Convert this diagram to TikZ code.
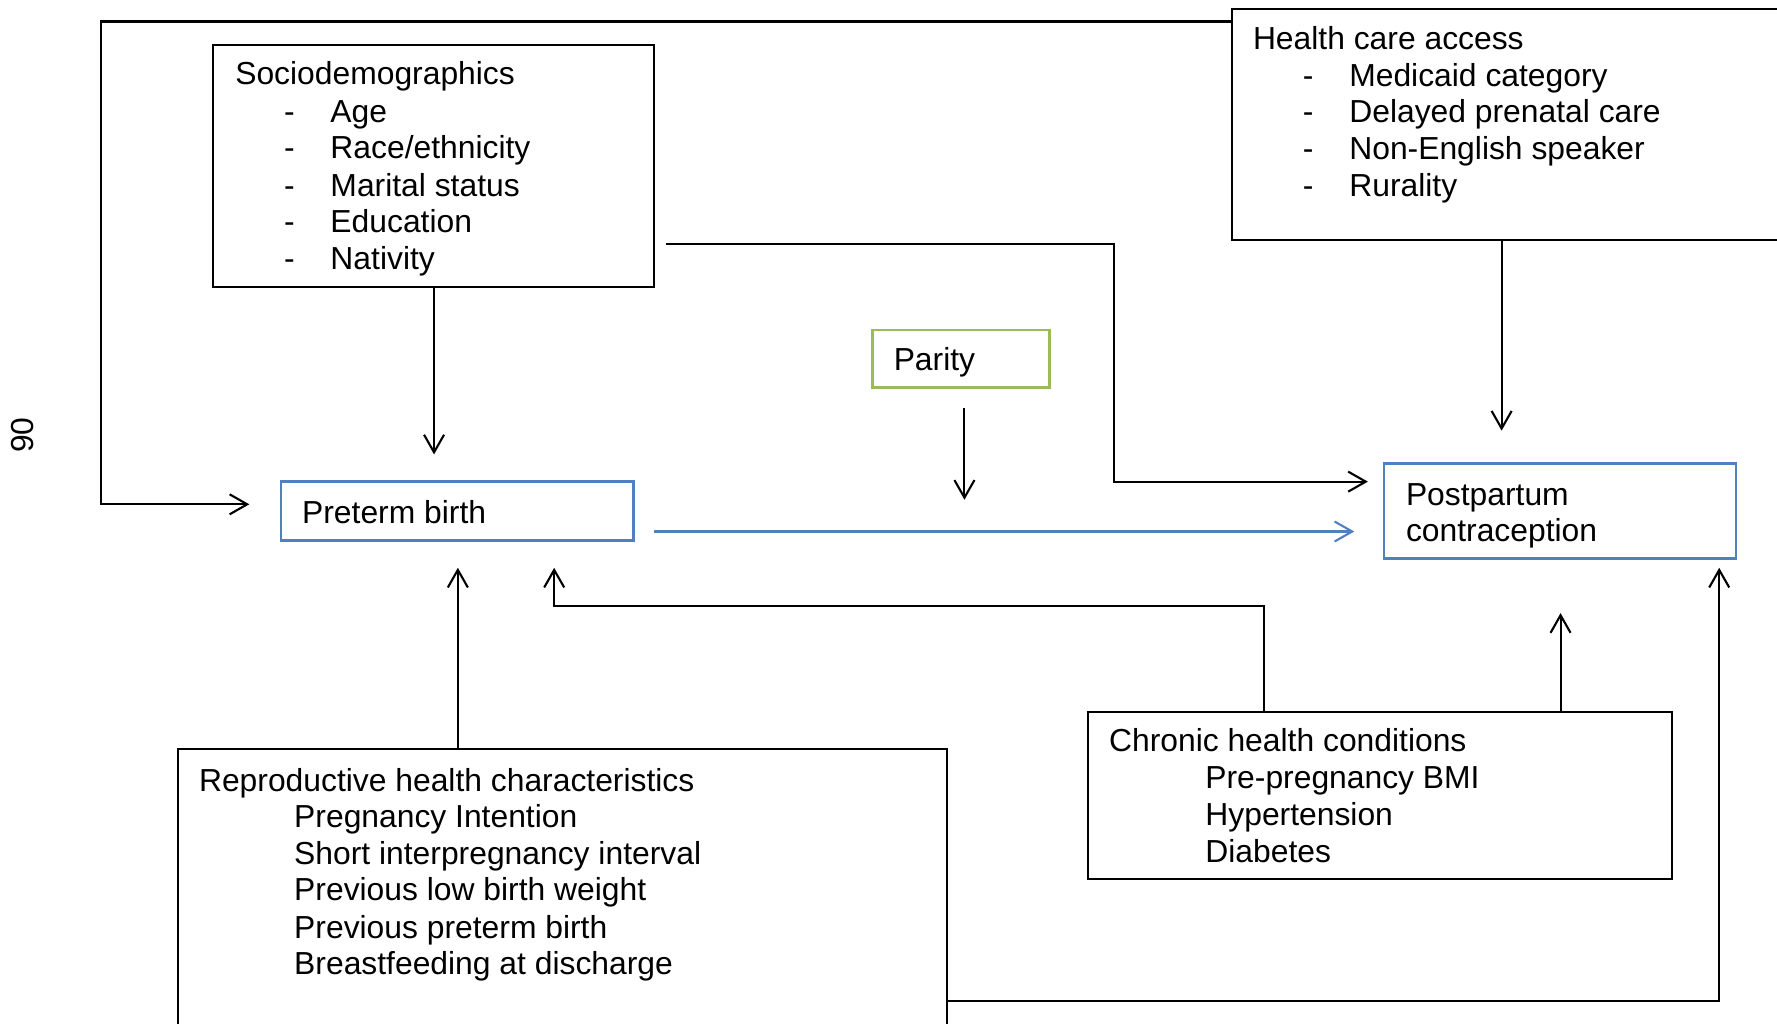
\documentclass[tikz,border=0pt]{standalone}
\usepackage{fontspec}
\setmainfont{Liberation Sans}
\usetikzlibrary{arrows.meta,fit,calc}
\definecolor{boxblue}{HTML}{4F81BD}
\definecolor{boxgreen}{HTML}{9BBB59}
\begin{document}
\begin{tikzpicture}[x=0.011333cm, y=-0.011333cm,
  txt/.style={anchor=base west, inner sep=0, font=\fontsize{9.06}{10.5}\selectfont},
  box/.style={draw, line width=0.6pt, inner sep=0},
  bluebox/.style={draw=boxblue, line width=0.7pt, inner sep=0},
  greenbox/.style={draw=boxgreen, line width=0.7pt, inner sep=0},
  arr/.style={line width=0.6pt, -{Straight Barb[length=5pt,width=5.7pt]}},
  bluearr/.style={line width=0.6pt, draw=boxblue, -{Straight Barb[length=5pt,width=5.7pt]}}]
\useasboundingbox (0,0) rectangle (1568,903);

% boxes
\node[box, fit={(188,40)(577,253)}] (socio) {};
\node[box, fit={(1087,8)(1620,212)}] (hca) {};
\node[bluebox, fit={(248,425)(559,477)}] (pre) {};
\node[greenbox, fit={(770,291)(926,342)}] (par) {};
\node[bluebox, fit={(1221,409)(1532,493)}] (post) {};
\node[box, fit={(157,661)(836,940)}] (rep) {};
\node[box, fit={(960,628)(1475,776)}] (chr) {};

% page number
\node[inner sep=0, rotate=90, font=\fontsize{9.06}{10.5}\selectfont] (pg) at (20,384) {90};

% Sociodemographics text
\node[txt] (s0) at (207,75) {Sociodemographics};
\node[txt] (sd1) at (250,108) {-};  \node[txt] (s1) at (291,108) {Age};
\node[txt] (sd2) at (250,140) {-};  \node[txt] (s2) at (291,140) {Race/ethnicity};
\node[txt] (sd3) at (250,173) {-};  \node[txt] (s3) at (291,173) {Marital status};
\node[txt] (sd4) at (250,205) {-};  \node[txt] (s4) at (291,205) {Education};
\node[txt] (sd5) at (250,238) {-};  \node[txt] (s5) at (291,238) {Nativity};

% Health care access text
\node[txt] (h0) at (1105,44) {Health care access};
\node[txt] (hd1) at (1149,76) {-};  \node[txt] (h1) at (1190,76) {Medicaid category};
\node[txt] (hd2) at (1149,108) {-}; \node[txt] (h2) at (1190,108) {Delayed prenatal care};
\node[txt] (hd3) at (1149,141) {-}; \node[txt] (h3) at (1190,141) {Non-English speaker};
\node[txt] (hd4) at (1149,173) {-}; \node[txt] (h4) at (1190,173) {Rurality};

% single-label boxes
\node[txt] (pret) at (266,462) {Preterm birth};
\node[txt] (part) at (788,327) {Parity};
\node[txt] (post1) at (1240,446) {Postpartum};
\node[txt] (post2) at (1240,478) {contraception};

% Reproductive health text
\node[txt] (r0) at (175,698) {Reproductive health characteristics};
\node[txt] (r1) at (259,730) {Pregnancy Intention};
\node[txt] (r2) at (259,763) {Short interpregnancy interval};
\node[txt] (r3) at (259,795) {Previous low birth weight};
\node[txt] (r4) at (259,828) {Previous preterm birth};
\node[txt] (r5) at (259,860) {Breastfeeding at discharge};

% Chronic health text
\node[txt] (c0) at (978,663) {Chronic health conditions};
\node[txt] (c1) at (1063,696) {Pre-pregnancy BMI};
\node[txt] (c2) at (1063,728) {Hypertension};
\node[txt] (c3) at (1063,761) {Diabetes};

% connector end points
\coordinate (topl) at (89,19);
\coordinate (tipPreL) at (220,445);
\coordinate (tipSocio) at (383,401);
\coordinate (e0) at (588,215);
\coordinate (e1) at (983,425);
\coordinate (tipPostL) at (1207,425);
\coordinate (parS) at (851,360);
\coordinate (tipPar) at (851,441);
\coordinate (bl0) at (577,469);
\coordinate (tipBlue) at (1195,469);
\coordinate (tipHca) at (1325,380);
\coordinate (tipRep) at (404,501);
\coordinate (ch0) at (1115,535);
\coordinate (tipChrPre) at (489,501);
\coordinate (tipChrPost) at (1377,541);
\coordinate (bt0) at (1517,883);
\coordinate (tipBot) at (1517,501);

% connectors
\draw[arr] (hca.west |- topl) -- (topl) |- (tipPreL);
\draw[arr] (socio.south -| tipSocio) -- (tipSocio);
\draw[arr] (e0) -| (e1) -- (tipPostL);
\draw[arr] (parS) -- (tipPar);
\draw[bluearr] (bl0) -- (tipBlue);
\draw[arr] (hca.south -| tipHca) -- (tipHca);
\draw[arr] (rep.north -| tipRep) -- (tipRep);
\draw[arr] (chr.north -| ch0) -- (ch0) -| (tipChrPre);
\draw[arr] (chr.north -| tipChrPost) -- (tipChrPost);
\draw[arr] (rep.east |- bt0) -- (bt0) -- (tipBot);
\end{tikzpicture}
\end{document}
